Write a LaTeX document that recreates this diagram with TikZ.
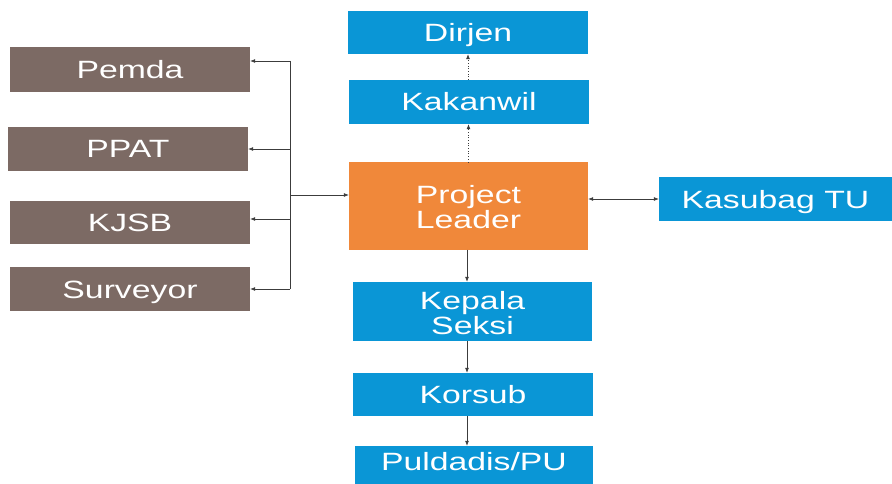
\documentclass[tikz,border=0pt]{standalone}
\usepackage{fontspec}
\setmainfont{Liberation Sans}
\usepackage{graphicx}
\usetikzlibrary{arrows.meta}
\definecolor{boxblue}{HTML}{0A96D6}
\definecolor{boxbrown}{HTML}{7C6A64}
\definecolor{boxorange}{HTML}{F0883A}
\definecolor{linkgray}{HTML}{3C3C3C}
% widened label text; its box spans cap height to the last baseline (plus #1)
% so that the capitals sit on the box centre
\newcommand\wide[2][0pt]{\scalebox{1.35}[1]{\raisebox{0pt}[18pt][#1]{\begin{tabular}[t]{@{}c@{}}#2\end{tabular}}}}
\tikzset{
  unit/.style={draw=none, inner sep=0pt, text=white,
    font=\fontsize{25}{23}\selectfont},
  bluebox/.style={unit, fill=boxblue},
  brownbox/.style={unit, fill=boxbrown},
  leadbox/.style={unit, fill=boxorange},
  link/.style={draw=linkgray, line width=0.7pt,
    -{Latex[length=5pt,width=4pt]}},
  duallink/.style={link, {Latex[length=5pt,width=4pt]}-{Latex[length=5pt,width=4pt]}},
  dotlink/.style={link, dotted},
  bus/.style={draw=linkgray, line width=0.7pt}
}
\begin{document}
\begin{tikzpicture}[x=1pt,y=-1pt]
\useasboundingbox (0,0) rectangle (892,484);

% central chain
\node[bluebox, minimum width=240, minimum height=43] (dir) at (468,32.5) {\wide{Dirjen}};
\node[bluebox, minimum width=240, minimum height=44] (kak) at (469,102) {\wide{Kakanwil}};
\node[leadbox, minimum width=239, minimum height=87] (pl) at (468.5,206) {\wide[23pt]{Project\\Leader}};
\node[bluebox, minimum width=233, minimum height=44] (kts) at (775.5,199) {\wide{Kasubag TU}};
\node[bluebox, minimum width=239, minimum height=59] (ks) at (472.5,311.5) {\wide[23pt]{Kepala\\Seksi}};
\node[bluebox, minimum width=240, minimum height=43] (kor) at (473,394.5) {\wide{Korsub}};
\node[bluebox, minimum width=238, minimum height=38] (pul) at (474,465) {\wide[8pt]{Puldadis/PU}};

% partner boxes
\node[brownbox, minimum width=240, minimum height=45] (pemda) at (130,69.5) {\wide{Pemda}};
\node[brownbox, minimum width=240, minimum height=44] (ppat) at (128,149) {\wide{PPAT}};
\node[brownbox, minimum width=240, minimum height=43] (kjsb) at (130,222.5) {\wide{KJSB}};
\node[brownbox, minimum width=240, minimum height=44] (surv) at (130,289) {\wide{Surveyor}};

% bus to partners
\coordinate (bustop) at (290,61);
\coordinate (busmid) at (290,195);
\coordinate (busbot) at (290,289);
\draw[bus] (bustop) -- (busbot);
\draw[link] (busmid) -- (busmid -| pl.west);
\draw[link] (bustop) -- (bustop -| pemda.east);
\draw[link] (bustop |- ppat.east) -- (ppat.east);
\draw[link] (bustop |- 0,219) -- (kjsb.east |- 0,219);
\draw[link] (busbot) -- (surv.east);

% upward reporting
\draw[dotlink] (kak.north -| dir.south) -- (dir.south);
\draw[dotlink] (pl.north) -- (pl.north |- kak.south);

% staff link
\coordinate (staff) at (0,199);
\draw[duallink] (pl.east |- staff) -- (kts.west |- staff);

% downward chain
\coordinate (chainx) at (467,0);
\draw[link] (chainx |- pl.south) -- (chainx |- ks.north);
\draw[link] (chainx |- ks.south) -- (chainx |- kor.north);
\draw[link] (chainx |- kor.south) -- (chainx |- pul.north);
\end{tikzpicture}
\end{document}
